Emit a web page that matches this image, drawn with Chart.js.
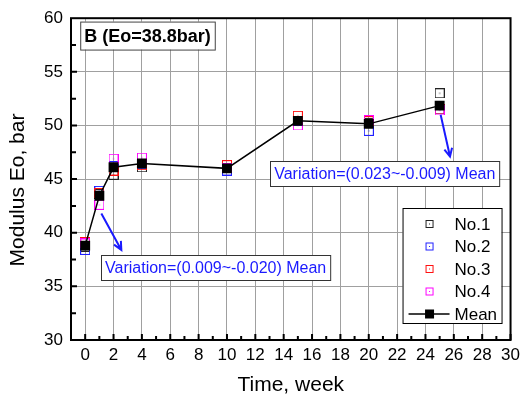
<!DOCTYPE html>
<html>
<head>
<meta charset="utf-8">
<script src="https://cdn.jsdelivr.net/npm/chart.js@4.4.1/dist/chart.umd.min.js"></script>
<style>
  html, body { margin: 0; padding: 0; background: #fff; }
</style>
</head>
<body>
<canvas id="modulusChart" width="525" height="401"></canvas>
<script>
// Modulus Eo vs time, sample B (Eo=38.8bar)
const weeks = [0, 1, 2, 4, 10, 15, 20, 25];
const no1 = [38.7, 43.6, 45.4, 46.1, 46.0, 50.4, 50.2, 53.0];
const no2 = [38.4, 43.9, 46.2, 46.4, 45.8, 50.4, 49.5, 51.5];
const no3 = [39.1, 43.7, 45.8, 46.3, 46.3, 50.9, 50.4, 51.5];
const no4 = [39.0, 42.6, 46.9, 47.0, 46.0, 50.0, 50.5, 51.4];
const meanVals = [38.8, 43.45, 46.1, 46.45, 46.0, 50.43, 50.15, 51.85];
const xTickVals = [0, 2, 4, 6, 8, 10, 12, 14, 16, 18, 20, 22, 24, 26, 28, 30];
const yTickVals = [30, 35, 40, 45, 50, 55, 60];
const seriesNames = ['No.1', 'No.2', 'No.3', 'No.4', 'Mean'];

const FONT = 'Arial, "Liberation Sans", sans-serif';

// annotation boxes / arrows in data coords (week, bar)
const notes = [
  { text: 'Variation=(0.009~-0.020) Mean', x: 1.12, y: 36.76, from: [1.14, 41.8], to: [2.55, 38.4] },
  { text: 'Variation=(0.023~-0.009) Mean', x: 13.05, y: 45.5, from: [25.07, 51.0], to: [25.73, 47.1] }
];

// open square with a small dot in the middle
function openSquare(color) {
  const c = document.createElement('canvas');
  c.width = 10; c.height = 10;
  const g = c.getContext('2d');
  g.strokeStyle = color; g.lineWidth = 1;
  g.strokeRect(0.5, 0.5, 9, 9);
  g.fillStyle = color;
  g.fillRect(4.5, 4.5, 1, 1);
  return c;
}

function scatterSet(label, data, color, order) {
  return {
    label: label,
    data: weeks.map((w, i) => ({ x: w, y: data[i] })),
    showLine: false,
    pointStyle: openSquare(color),
    pointRadius: 5,
    borderColor: color,
    backgroundColor: color,
    order: order
  };
}

function arrow(ctx, x1, y1, x2, y2) {
  const ang = Math.atan2(y2 - y1, x2 - x1);
  ctx.beginPath();
  ctx.moveTo(x1, y1);
  ctx.lineTo(x2, y2);
  ctx.moveTo(x2 - 9 * Math.cos(ang - 0.45), y2 - 9 * Math.sin(ang - 0.45));
  ctx.lineTo(x2, y2);
  ctx.lineTo(x2 - 9 * Math.cos(ang + 0.45), y2 - 9 * Math.sin(ang + 0.45));
  ctx.stroke();
}

const decorations = {
  id: 'decorations',
  afterDraw(chart) {
    const { ctx, chartArea: a, scales: { x, y } } = chart;
    ctx.save();

    // inward ticks
    ctx.strokeStyle = '#000';
    ctx.lineWidth = 2;
    ctx.beginPath();
    for (let t = 0; t <= 30; t++) {
      const px = x.getPixelForValue(t);
      const len = t % 2 === 0 ? 6 : 4;
      ctx.moveTo(px, a.bottom); ctx.lineTo(px, a.bottom - len);
    }
    for (let v = 32.5; v < 60; v += 2.5) {
      const py = y.getPixelForValue(v);
      const len = v % 5 === 0 ? 6 : 5;
      ctx.moveTo(a.left, py); ctx.lineTo(a.left + len, py);
    }
    ctx.stroke();

    // frame
    ctx.strokeRect(a.left, a.top, a.right - a.left, a.bottom - a.top);

    // y title
    ctx.save();
    ctx.translate(18, 190);
    ctx.rotate(-Math.PI / 2);
    ctx.fillStyle = '#000';
    ctx.font = '21px ' + FONT;
    ctx.textAlign = 'center';
    ctx.textBaseline = 'middle';
    ctx.fillText('Modulus Eo, bar', 0, 0);
    ctx.restore();

    // sample label box
    ctx.font = 'bold 18px ' + FONT;
    ctx.textBaseline = 'middle';
    ctx.textAlign = 'left';
    const bx = x.getPixelForValue(-0.35), by = y.getPixelForValue(58.38);
    const bw = ctx.measureText('B (Eo=38.8bar)').width + 8;
    ctx.fillStyle = '#fff';
    ctx.fillRect(bx, by - 14, bw, 28);
    ctx.lineWidth = 1;
    ctx.strokeStyle = '#444';
    ctx.strokeRect(bx + 0.5, by - 14 + 0.5, bw, 28);
    ctx.fillStyle = '#000';
    ctx.fillText('B (Eo=38.8bar)', bx + 4, by + 1);

    // variation notes and arrows
    ctx.font = '16px ' + FONT;
    notes.forEach(n => {
      const nx = x.getPixelForValue(n.x), ny = y.getPixelForValue(n.y);
      const w = ctx.measureText(n.text).width + 8;
      ctx.fillStyle = '#fff';
      ctx.fillRect(nx, ny - 12.5, w, 25);
      ctx.lineWidth = 1;
      ctx.strokeStyle = '#333';
      ctx.strokeRect(Math.round(nx) + 0.5, Math.round(ny - 12.5) + 0.5, w, 25);
      ctx.fillStyle = '#1a1aff';
      ctx.fillText(n.text, nx + 4, ny + 1);
      ctx.strokeStyle = '#1a1aff';
      ctx.lineWidth = 2;
      arrow(ctx, x.getPixelForValue(n.from[0]), y.getPixelForValue(n.from[1]),
                 x.getPixelForValue(n.to[0]), y.getPixelForValue(n.to[1]));
    });

    // legend
    const lx = a.right - 108, ly = a.bottom - 132, lw = 99, lh = 115;
    ctx.fillStyle = '#fff';
    ctx.fillRect(lx, ly, lw, lh);
    ctx.strokeStyle = '#000';
    ctx.lineWidth = 1;
    ctx.strokeRect(lx + 0.5, ly + 0.5, lw, lh);
    ctx.font = '17px ' + FONT;
    chart.data.datasets.forEach((ds, i) => {
      const ry = ly + 16 + i * 22.5;
      const mx = lx + 27;
      if (i < 4) {
        ctx.strokeStyle = ds.borderColor;
        ctx.lineWidth = 1;
        ctx.strokeRect(mx - 3.5, ry - 3.5, 7, 7);
        ctx.fillStyle = ds.borderColor;
        ctx.fillRect(mx - 0.5, ry - 0.5, 1, 1);
      } else {
        ctx.strokeStyle = '#000';
        ctx.lineWidth = 1.5;
        ctx.beginPath();
        ctx.moveTo(lx + 6, ry); ctx.lineTo(lx + 47, ry);
        ctx.stroke();
        ctx.fillStyle = '#000';
        ctx.fillRect(mx - 4.5, ry - 4.5, 9, 9);
      }
      ctx.fillStyle = '#000';
      ctx.fillText(ds.label, lx + 52, ry + 1);
    });

    ctx.restore();
  }
};

const datasets = [
  scatterSet(seriesNames[0], no1, '#222222', 4),
  scatterSet(seriesNames[1], no2, '#2020ff', 3),
  scatterSet(seriesNames[2], no3, '#ff1010', 2),
  scatterSet(seriesNames[3], no4, '#ff00ff', 1),
  {
    label: seriesNames[4],
    data: weeks.map((w, i) => ({ x: w, y: meanVals[i] })),
    showLine: true,
    borderColor: '#000',
    backgroundColor: '#000',
    borderWidth: 1.5,
    pointStyle: 'rect',
    pointRadius: 7,
    pointBorderWidth: 0,
    tension: 0,
    order: 0
  }
];

new Chart(document.getElementById('modulusChart').getContext('2d'), {
  type: 'scatter',
  data: { datasets: datasets },
  options: {
    responsive: false,
    animation: false,
    events: [],
    layout: { padding: { top: 15, right: 12, left: 0, bottom: 0 } },
    plugins: { legend: { display: false }, tooltip: { enabled: false } },
    scales: {
      x: {
        type: 'linear',
        min: -1,
        max: 30,
        afterBuildTicks: s => { s.ticks = xTickVals.map(v => ({ value: v })); },
        afterFit: s => { s.height = 61; },
        grid: { color: '#a0a0a0', lineWidth: 1, drawTicks: false },
        border: { display: false },
        ticks: { color: '#000', padding: 5, maxRotation: 0, autoSkip: false, font: { family: FONT, size: 17 } },
        title: { display: true, text: 'Time, week', color: '#000', padding: { top: 0, bottom: 3 }, font: { family: FONT, size: 21 } }
      },
      y: {
        min: 30,
        max: 60,
        afterBuildTicks: s => { s.ticks = yTickVals.map(v => ({ value: v })); },
        afterFit: s => { s.width = 71; },
        grid: { color: '#a0a0a0', lineWidth: 1, drawTicks: false },
        border: { display: false },
        ticks: { color: '#000', padding: 8, font: { family: FONT, size: 17 } }
      }
    }
  },
  plugins: [decorations]
});
</script>
</body>
</html>
